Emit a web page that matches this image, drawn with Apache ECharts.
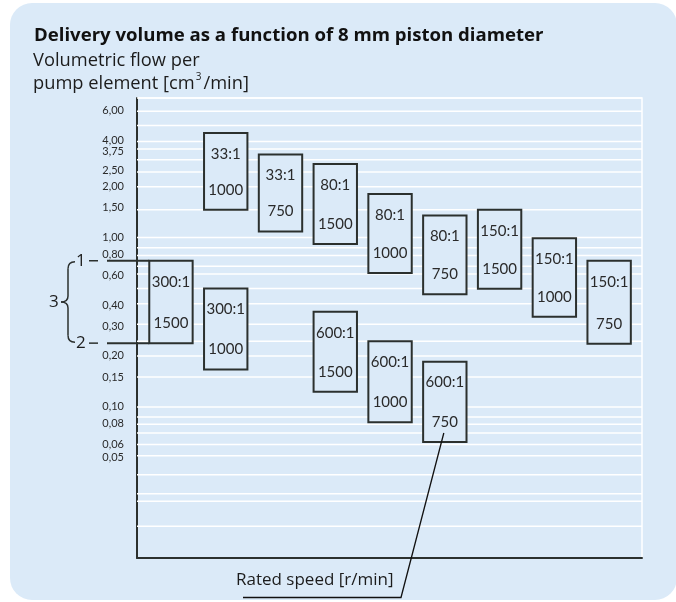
<!DOCTYPE html>
<html>
<head>
<meta charset="utf-8">
<script src="https://cdn.jsdelivr.net/npm/echarts@6/dist/echarts.min.js"></script>
<style>
  html, body { margin: 0; padding: 0; background: #fff; }
  #panel { position: absolute; left: 10px; top: 3px; width: 667px; height: 597px; border-radius: 22px; background: #dbeaf8; }
  #chart { position: absolute; left: 0; top: 0; width: 676px; height: 602px; }
</style>
</head>
<body>
<div id="panel"></div>
<div id="chart"></div>
<script>
// one entry per box: column on the x axis, gear ratio, rated speed, flow range [cm3/min]
var column  = [0, 1, 1, 2, 3, 3, 4, 4, 5, 5, 6, 7, 8];
var ratios  = ['300:1', '33:1', '300:1', '33:1', '80:1', '600:1', '80:1', '600:1', '80:1', '600:1', '150:1', '150:1', '150:1'];
var speeds  = ['1500', '1000', '1000', '750', '1500', '1500', '1000', '1000', '750', '750', '1500', '1000', '750'];
var flowMax = [0.73, 4.15, 0.50, 3.10, 2.72, 0.365, 1.81, 0.244, 1.35, 0.185, 1.46, 0.99, 0.73];
var flowMin = [0.238, 1.46, 0.166, 1.085, 0.918, 0.123, 0.618, 0.081, 0.462, 0.062, 0.499, 0.341, 0.236];

// y axis labels and the white guide lines behind the boxes
var tickLabels = [6.00, 4.00, 3.75, 2.50, 2.00, 1.50, 1.00, 0.80, 0.60, 0.40, 0.30, 0.20, 0.15, 0.10, 0.08, 0.06, 0.05];
var gridValues = [6.68, 5.57, 4.6, 3.7, 3.34, 2.88, 2.44, 2.0, 1.46, 1.0, 0.87, 0.785, 0.677, 0.61, 0.5, 0.407,
                  0.308, 0.244, 0.2, 0.15, 0.1, 0.087, 0.079, 0.07, 0.06, 0.0514, 0.0397, 0.0307, 0.0277, 0.0197];

var FONT = 'Lato';
var HEAD = 'Open Sans';
var INK = '#2b302e';
var PANEL = '#dbeaf8';
var HALF = 0.396; // half box width in column units
var X_MIN = -0.62, X_MAX = 8.6;

function lg (v) { return Math.log(v) / Math.LN10; }

// labels near the top sit a little lower than their log position in the original
var nudge = { '6,00': 'd5', '4,00': 'd5', '3,75': 'd11' };

var chart = echarts.init(document.getElementById('chart'), null, { renderer: 'canvas' });

var option = {
  backgroundColor: 'transparent',
  animation: false,
  title: [
    {
      text: 'Delivery volume as a function of 8 mm piston diameter',
      left: 34, top: 26, padding: 0,
      textStyle: { fontFamily: HEAD, fontSize: 18.6, fontWeight: 'bold', color: '#111' }
    },
    {
      text: 'Volumetric flow per\npump element [cm{s|3}/min]',
      left: 33, top: 49, padding: 0,
      textStyle: {
        fontFamily: HEAD, fontSize: 18.3, fontWeight: 'normal', color: '#1c1c1c', lineHeight: 23,
        rich: { s: { fontSize: 10, verticalAlign: 'top', padding: [0, 2, 9, 1], fontFamily: HEAD, color: '#1c1c1c' } }
      }
    }
  ],
  grid: { left: 137, right: 34, top: 98, bottom: 44, show: true, borderColor: '#fff', borderWidth: 1.5, backgroundColor: 'transparent' },
  xAxis: {
    type: 'value', min: X_MIN, max: X_MAX,
    axisLine: { show: true, onZero: false, lineStyle: { color: INK, width: 2 } },
    axisTick: { show: false }, axisLabel: { show: false }, splitLine: { show: false }
  },
  yAxis: {
    type: 'value', min: lg(0.0128), max: lg(6.68),
    axisLine: { show: true, onZero: false, lineStyle: { color: INK, width: 2 } },
    axisTick: { show: false },
    splitLine: { show: false },
    axisLabel: {
      customValues: tickLabels.map(lg),
      margin: 13,
      fontFamily: FONT, fontSize: 11, color: '#2a2a2a',
      formatter: function (v) {
        var t = Math.pow(10, v).toFixed(2).replace('.', ',');
        return nudge[t] ? '{' + nudge[t] + '|' + t + '}' : t;
      },
      rich: {
        d5: { padding: [10, 0, 0, 0], fontFamily: FONT, fontSize: 11, color: '#2a2a2a' },
        d11: { padding: [22, 0, 0, 0], fontFamily: FONT, fontSize: 11, color: '#2a2a2a' }
      }
    }
  },
  series: [
    {
      type: 'custom',
      z: 1,
      silent: true,
      data: gridValues.map(function (v) { return [lg(v)]; }),
      encode: { y: 0 },
      renderItem: function (params, api) {
        var cs = params.coordSys;
        var y = api.coord([X_MIN, api.value(0)])[1];
        return {
          type: 'line',
          shape: { x1: cs.x, y1: y, x2: cs.x + cs.width, y2: y },
          style: { stroke: '#ffffff', lineWidth: 1.5 }
        };
      }
    },
    {
      type: 'custom',
      z: 3,
      data: column.map(function (c, i) { return [c, lg(flowMax[i]), lg(flowMin[i])]; }),
      encode: { x: 0, y: [1, 2] },
      renderItem: function (params, api) {
        var i = params.dataIndex;
        var p1 = api.coord([api.value(0) - HALF, api.value(1)]);
        var p2 = api.coord([api.value(0) + HALF, api.value(2)]);
        var cx = (p1[0] + p2[0]) / 2;
        var txt = { fontFamily: FONT, fontSize: 15, fill: '#2a2a2a', align: 'center', verticalAlign: 'middle' };
        return {
          type: 'group',
          children: [
            {
              type: 'rect',
              shape: { x: p1[0], y: p1[1], width: p2[0] - p1[0], height: p2[1] - p1[1] },
              style: { fill: PANEL, stroke: INK, lineWidth: 2 }
            },
            { type: 'text', style: Object.assign({ text: ratios[i], x: cx, y: p1[1] + 21 }, txt) },
            { type: 'text', style: Object.assign({ text: speeds[i], x: cx, y: p2[1] - 20 }, txt) }
          ]
        };
      }
    }
  ]
};

chart.setOption(option);

// annotations: range marks 1/2/3 on the first box, leader to the axis caption
var top0 = chart.convertToPixel({ gridIndex: 0 }, [column[0] - HALF, lg(flowMax[0])]);
var bot0 = chart.convertToPixel({ gridIndex: 0 }, [column[0] - HALF, lg(flowMin[0])]);
var b9 = chart.convertToPixel({ gridIndex: 0 }, [column[9], lg(flowMin[9])]);
var midY = (top0[1] + bot0[1]) / 2;
var ty = top0[1], by = bot0[1];
var lbl = { fontFamily: HEAD, fontSize: 17, fill: '#1c1c1c', verticalAlign: 'middle' };
var brace = { stroke: INK, lineWidth: 1.5, fill: null };

chart.setOption({
  graphic: [
    { type: 'line', z: 10, shape: { x1: 107, y1: ty, x2: top0[0], y2: ty }, style: { stroke: INK, lineWidth: 2 } },
    { type: 'line', z: 10, shape: { x1: 107, y1: by, x2: bot0[0], y2: by }, style: { stroke: INK, lineWidth: 2 } },
    { type: 'line', z: 10, shape: { x1: 89, y1: ty, x2: 98, y2: ty }, style: { stroke: INK, lineWidth: 1.5 } },
    { type: 'line', z: 10, shape: { x1: 89, y1: by, x2: 98, y2: by }, style: { stroke: INK, lineWidth: 1.5 } },
    { type: 'text', z: 10, style: Object.assign({ text: '1', x: 76, y: ty }, lbl) },
    { type: 'text', z: 10, style: Object.assign({ text: '2', x: 76, y: by }, lbl) },
    { type: 'text', z: 10, style: Object.assign({ text: '3', x: 49, y: midY }, lbl) },
    // curly brace
    { type: 'bezierCurve', z: 10, shape: { x1: 75, y1: ty + 1, cpx1: 68, cpy1: ty + 1, x2: 68, y2: ty + 8 }, style: brace },
    { type: 'line', z: 10, shape: { x1: 68, y1: ty + 8, x2: 68, y2: midY - 6 }, style: brace },
    { type: 'bezierCurve', z: 10, shape: { x1: 68, y1: midY - 6, cpx1: 68, cpy1: midY, x2: 61, y2: midY }, style: brace },
    { type: 'bezierCurve', z: 10, shape: { x1: 61, y1: midY, cpx1: 68, cpy1: midY, x2: 68, y2: midY + 6 }, style: brace },
    { type: 'line', z: 10, shape: { x1: 68, y1: midY + 6, x2: 68, y2: by - 8 }, style: brace },
    { type: 'bezierCurve', z: 10, shape: { x1: 68, y1: by - 8, cpx1: 68, cpy1: by - 1, x2: 75, y2: by - 1 }, style: brace },
    {
      type: 'polyline', z: 10,
      shape: { points: [[b9[0] - 1, b9[1] - 9], [401, 597.5], [243, 597.5]] },
      style: { stroke: '#111', lineWidth: 1.3, fill: null }
    },
    { type: 'text', z: 10, style: Object.assign({ text: 'Rated speed [r/min]', x: 236, y: 580 }, lbl) }
  ]
});
</script>
</body>
</html>
